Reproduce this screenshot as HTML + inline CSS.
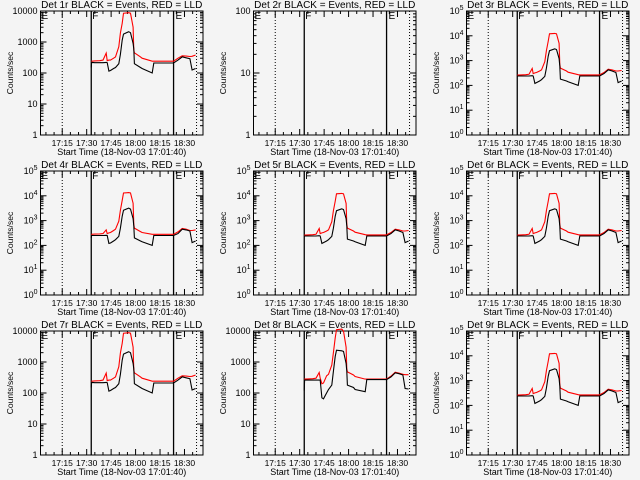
<!DOCTYPE html>
<html><head><meta charset="utf-8">
<style>
html,body{margin:0;padding:0;background:#f4f4f4;}
svg{display:block;font-family:"Liberation Sans",sans-serif;}
</style></head>
<body>
<svg id="chart" width="640" height="480" viewBox="0 0 640 480">
<rect width="640" height="480" fill="#f4f4f4"/>
</svg>
<script>
// shared time samples (minutes after 17:00)
const times = [32.8,33.0,35,38,40,42,42.6,43.6,44.6,46.5,47.7,49.7,50.7,51.8,52.6,55.8,56.9,58.5,58.9,59.3,63,64,70.2,71.2,75,80,83.3,86,88.6,91,93.3,94.7,96.8];
const detTitles = ["Det 1r","Det 2r","Det 3r","Det 4r","Det 5r","Det 6r","Det 7r","Det 8r","Det 9r"];
const yDecades = [4,2,5,5,5,5,4,4,5];
const supLabels = [false,false,true,true,true,true,false,false,true];
const xTickLabels = ["17:15","17:30","17:45","18:00","18:15","18:30"];
const xTickTimes = [15,30,45,60,75,90];
const markerTimes = [15,32.8,83.3,97.4];
const red1 = [240,240,245,250,260,440,250,260,260,300,330,700,1950,4000,8500,8800,8500,3000,550,450,330,300,240,240,240,240,240,300,360,350,340,345,380];
const blk1 = [150,220,215,215,215,220,215,115,120,140,150,200,400,1150,1800,2150,2000,900,600,200,150,140,100,210,210,210,210,260,330,310,290,125,140];
const red3 = [260,260,265,270,280,480,300,320,330,380,420,900,2500,6000,12000,12500,12000,5000,700,500,380,340,270,265,265,265,265,330,450,420,380,380,400];
const blk3 = [240,240,240,240,240,245,240,120,130,150,170,230,500,1500,2500,3000,2800,1200,600,180,150,140,100,240,240,240,240,300,420,380,330,130,150];
const red4 = [280,280,285,290,300,420,300,320,330,400,450,950,2600,6500,13000,13500,13000,5000,700,500,360,330,280,280,280,280,280,350,480,450,400,400,420];
const blk4 = [200,250,250,250,250,255,250,120,125,150,170,230,500,1500,2600,3200,2900,1200,600,200,150,140,100,250,250,250,250,300,450,420,380,130,150];
const red8 = [280,280,285,290,300,460,300,200,210,360,400,800,2000,6000,11000,11500,10000,3000,600,480,380,340,280,280,280,280,280,350,470,440,400,390,390];
const blk8 = [120,260,260,260,260,260,260,70,65,100,130,180,500,1500,2400,2300,2200,900,500,180,150,130,110,270,270,270,270,330,450,420,380,140,135];
const redSeries = [red1,null,red3,red4,red3,red3,red1,red8,red3];
const blkSeries = [blk1,null,blk3,blk4,blk3,blk3,blk1,blk8,blk3];

const NS="http://www.w3.org/2000/svg";
const svg=document.getElementById('chart');
function mk(tag,attrs,parent){const e=document.createElementNS(NS,tag);for(const k in attrs)e.setAttribute(k,attrs[k]);(parent||svg).appendChild(e);return e;}
const PL=40.5,PR=203,PT=11,PB=135;
const t0=1.667,pxPerMin=1.63;
function xs(t){return PL+(t-t0)*pxPerMin;}

for(let p=0;p<9;p++){
  const ox=[0,213,426][p%3], oy=[0,160,320][Math.floor(p/3)];
  const g=mk('g',{transform:`translate(${ox},${oy})`});
  
  
  const dec=yDecades[p];
  const ys=v=>PB-(Math.log10(v)/dec)*(PB-PT);
  const ti=mk('text',{x:(PL+PR)/2,y:8,'text-anchor':'middle','font-size':'10'},g);
  ti.textContent=detTitles[p]+" BLACK = Events, RED = LLD";
  
  
  const box=mk('rect',{x:PL,y:PT,width:PR-PL,height:PB-PT,fill:'none',stroke:'#000','stroke-width':1},g);
  
  
  for(let d=0;d<=dec;d++){
    const y=ys(Math.pow(10,d));
    mk('line',{x1:PL,x2:PL+6,y1:y,y2:y,stroke:'#000'},g);
    mk('line',{x1:PR,x2:PR-6,y1:y,y2:y,stroke:'#000'},g);
    const lb=mk('text',{x:PL-3,y:y+3,'text-anchor':'end','font-size':'9'},g);
    
    
    if(supLabels[p]){lb.textContent='10';const s=mk('tspan',{dy:-4,'font-size':'7'},lb);s.textContent=String(d);}
    else lb.textContent=String(Math.pow(10,d));
    if(d<dec){for(let m=2;m<=9;m++){const ym=ys(m*Math.pow(10,d));
      mk('line',{x1:PL,x2:PL+3,y1:ym,y2:ym,stroke:'#000'},g);
      mk('line',{x1:PR,x2:PR-3,y1:ym,y2:ym,stroke:'#000'},g);}}
  }
  for(let t=5;t<100;t+=5){const x=xs(t);const maj=(t%15===0);const L=maj?6:3;
    mk('line',{x1:x,x2:x,y1:PB,y2:PB-L,stroke:'#000'},g);
    mk('line',{x1:x,x2:x,y1:PT,y2:PT+L,stroke:'#000'},g);}
  xTickTimes.forEach((t,i)=>{const lb=mk('text',{x:xs(t),y:146,'text-anchor':'middle','font-size':'8.5'},g);
    lb.textContent=xTickLabels[i];
    
    });
  const xt=mk('text',{x:(PL+PR)/2,y:155,'text-anchor':'middle','font-size':'9'},g);
  xt.textContent="Start Time (18-Nov-03 17:01:40)";
  
  
  const yt=mk('text',{x:0,y:0,'text-anchor':'middle','font-size':'8.5',transform:`translate(13,${(PT+PB)/2}) rotate(-90)`},g);
  yt.textContent="Counts/sec";
  
  
  markerTimes.forEach((t,i)=>{const x=xs(t);const solid=(i===1||i===2);
    const l=mk('line',{x1:x,x2:x,y1:PT,y2:PB,stroke:'#000','stroke-width':solid?1.3:1,'stroke-dasharray':solid?'none':'1,2'},g);
    
    });
  [["E",PL+1],["F",xs(markerTimes[1])+1],["E",xs(markerTimes[2])+2]].forEach(a=>{
    const e=mk('text',{x:a[1],y:PT+8,'font-size':'10'},g);e.textContent=a[0];
    
    });
  const r=redSeries[p],b=blkSeries[p];
  if(r){
    const pr=mk('polyline',{points:times.map((t,i)=>xs(t).toFixed(1)+','+ys(r[i]).toFixed(1)).join(' '),fill:'none',stroke:'#ff0000','stroke-width':1.1},g);
    
    
    const pb=mk('polyline',{points:times.map((t,i)=>xs(t).toFixed(1)+','+ys(b[i]).toFixed(1)).join(' '),fill:'none',stroke:'#000','stroke-width':1.1},g);
    
    
  }
}
</script>
</body></html>
